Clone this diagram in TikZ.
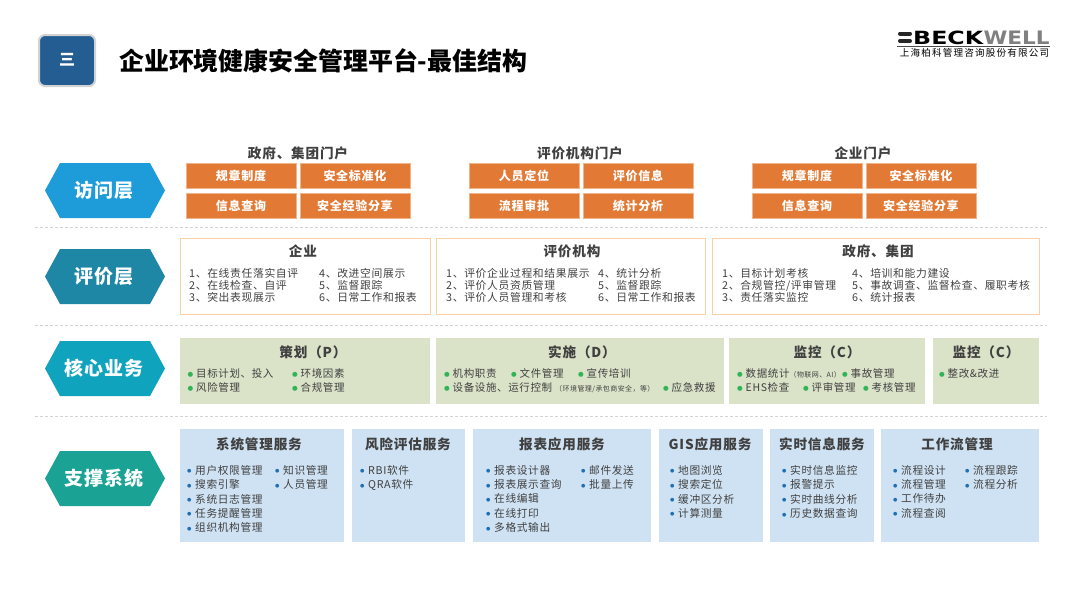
\documentclass[tikz,border=0pt]{standalone}
\usepackage{fontspec}
\usepackage{graphicx}
\setmainfont[LetterSpace=6]{Noto Sans CJK SC}
\newfontfamily\titlefont{Noto Sans CJK SC}
\newfontfamily\logofont{DejaVu Sans}
\usetikzlibrary{positioning}

\definecolor{hexblue}{HTML}{1E9CD9}
\definecolor{hexteal}{HTML}{1F87A6}
\definecolor{hexcyan}{HTML}{10A3BE}
\definecolor{hexgreen}{HTML}{1AA294}
\definecolor{menufill}{HTML}{245D92}
\definecolor{portalfill}{HTML}{E27A35}
\definecolor{portaledge}{HTML}{F0B48A}
\definecolor{evaledge}{HTML}{F8D2A6}
\definecolor{corefill}{HTML}{DAE3C8}
\definecolor{supfill}{HTML}{CFE2F3}
\definecolor{textgray}{HTML}{404040}
\definecolor{dotgreen}{HTML}{2FB457}
\definecolor{dotblue}{HTML}{1F6FB5}

\newcommand{\gdot}{\makebox[8.5pt][l]{\logofont\fontsize{6.5}{6.5}\selectfont\color{dotgreen}\raisebox{1pt}{●}}}
\newcommand{\bdot}{\makebox[8pt][l]{\logofont\fontsize{5}{5}\selectfont\color{dotblue}\raisebox{1.5pt}{●}}}
\newcommand{\smalltext}[1]{{\fontsize{7}{8}\selectfont #1}}

\tikzset{
  portal/.style={draw=portaledge,fill=portalfill,text=white,font=\fontsize{12}{14}\selectfont\bfseries,
    minimum width=109.5pt,minimum height=25pt,inner sep=0pt,anchor=north west},
  portalhead/.style={text=textgray,font=\fontsize{13.6}{16}\selectfont\bfseries,inner sep=0pt},
  hexlabel/.style={text=white,font=\fontsize{19}{21}\selectfont\bfseries,inner sep=0pt},
  boxhead/.style={text=textgray,font=\fontsize{13.6}{16}\selectfont\bfseries,inner sep=0pt},
  evallist/.style={text=textgray,font=\fontsize{10.8}{12}\selectfont,align=left,anchor=north west,inner sep=0pt},
  corelist/.style={text=textgray,font=\fontsize{10.5}{14.5}\selectfont,align=left,anchor=north west,inner sep=0pt},
  suplist/.style={text=textgray,font=\fontsize{10.7}{14.4}\selectfont,align=left,anchor=north west,inner sep=0pt},
  layerline/.style={gray!35,densely dashed,line width=0.6pt},
}

\begin{document}
\begin{tikzpicture}[x=1pt,y=-1pt]
\useasboundingbox (0,0) rectangle (1080,606);

% title
\draw[gray!35,line width=2pt,fill=menufill,rounded corners=6pt] (39,35) rectangle (95,86);
\node[inner sep=0pt] (menu) at (67,60) {\titlefont\fontsize{16}{18}\selectfont\bfseries\color{white}三};
\node[anchor=west,inner sep=0pt] (title) at (119,61) {\titlefont\fontsize{24.9}{28}\selectfont\bfseries 企业环境健康安全管理平台-最佳结构};

% logo
\draw[line width=4pt,black!85,line cap=round] (900,33.5)--(910,33.5);
\draw[line width=4pt,black!85,line cap=round] (900,41)--(910,41);
\node[anchor=west,inner sep=0pt] (beck) at (913,37.5) {\resizebox{70pt}{13.5pt}{\logofont\bfseries BECK}};
\node[inner sep=0pt,right=0pt of beck] (well) {\resizebox{66pt}{13.5pt}{\logofont\bfseries\color{gray}WELL}};
\draw[black!70,line width=0.7pt] (897,46)--(1050,46);
\node[inner sep=0pt] (company) at (974.5,53) {\titlefont\fontsize{9.6}{10}\selectfont\addfontfeature{LetterSpace=12}上海柏科管理咨询股份有限公司};

% layer separators
\draw[layerline] (35,227.5)--(1047,227.5);
\draw[layerline] (35,325.5)--(1047,325.5);
\draw[layerline] (35,416.5)--(1047,416.5);

% layer hexagons
\fill[hexblue] (45,190.5)--(60,163)--(150,163)--(165,190.5)--(150,218)--(60,218)--cycle;
\node[hexlabel] (access) at (104,190) {访问层};
\fill[hexteal] (45,276.5)--(60,249)--(150,249)--(165,276.5)--(150,304)--(60,304)--cycle;
\node[hexlabel] (evaluate) at (104,276) {评价层};
\fill[hexcyan] (45,368.5)--(60,341)--(150,341)--(165,368.5)--(150,396)--(60,396)--cycle;
\node[hexlabel] (core) at (104,368) {核心业务};
\fill[hexgreen] (45,478.5)--(60,451)--(150,451)--(165,478.5)--(150,506)--(60,506)--cycle;
\node[hexlabel] (support) at (104,478) {支撑系统};

% access layer
\node[portalhead] (govhead) at (298,153) {政府、集团门户};
\node[portal] (gova) at (186,163) {规章制度};
\node[portal] (govb) at (300,163) {安全标准化};
\node[portal] (govc) at (186,193) {信息查询};
\node[portal] (govd) at (300,193) {安全经验分享};
\node[portalhead] (orghead) at (580,153) {评价机构门户};
\node[portal] (orga) at (469,163) {人员定位};
\node[portal] (orgb) at (583,163) {评价信息};
\node[portal] (orgc) at (469,193) {流程审批};
\node[portal] (orgd) at (583,193) {统计分析};
\node[portalhead] (enthead) at (863,153) {企业门户};
\node[portal] (enta) at (752,163) {规章制度};
\node[portal] (entb) at (866,163) {安全标准化};
\node[portal] (entc) at (752,193) {信息查询};
\node[portal] (entd) at (866,193) {安全经验分享};

% evaluation layer
\draw[evaledge,line width=0.9pt] (180,238) rectangle (430,314);
\node[boxhead] (evalahead) at (303,251) {企业};
\node[evallist] (evalaleft) at (189,268) {1、在线责任落实自评\\2、在线检查、自评\\3、突出表现展示};
\node[evallist] (evalaright) at (319,268) {4、改进空间展示\\5、监督跟踪\\6、日常工作和报表};
\draw[evaledge,line width=0.9pt] (436,238) rectangle (705,314);
\node[boxhead] (evalbhead) at (572,251) {评价机构};
\node[evallist] (evalbleft) at (446,268) {1、评价企业过程和结果展示\\2、评价人员资质管理\\3、评价人员管理和考核};
\node[evallist] (evalbright) at (598,268) {4、统计分析\\5、监督跟踪\\6、日常工作和报表};
\draw[evaledge,line width=0.9pt] (712,238) rectangle (1039,314);
\node[boxhead] (evalchead) at (878,251) {政府、集团};
\node[evallist] (evalcleft) at (722,268) {1、目标计划考核\\2、合规管控/评审管理\\3、责任落实监控};
\node[evallist] (evalcright) at (852,268) {4、培训和能力建设\\5、事故调查、监督检查、履职考核\\6、统计报表};

% core business
\fill[corefill] (180,338) rectangle (430,404);
\node[boxhead] (planhead) at (313,352) {策划（P）};
\node[corelist] (planleft) at (187.5,368) {\gdot 目标计划、投入\\\gdot 风险管理};
\node[corelist] (planright) at (292,368) {\gdot 环境因素\\\gdot 合规管理};
\fill[corefill] (436,338) rectangle (724,404);
\node[boxhead] (dohead) at (582,352) {实施（D）};
\node[corelist] (doa) at (444,368) {\gdot 机构职责};
\node[corelist] (dob) at (511,368) {\gdot 文件管理};
\node[corelist] (doc) at (578,368) {\gdot 宣传培训};
\node[corelist] (dod) at (444,382.5) {\gdot 设备设施、运行控制\hspace{3pt}\smalltext{（环境管理/承包商安全，等）}};
\node[corelist] (doe) at (663,382.5) {\gdot 应急救援};
\fill[corefill] (729,338) rectangle (925,404);
\node[boxhead] (checkhead) at (827,352) {监控（C）};
\node[corelist] (checka) at (737,368) {\gdot 数据统计\smalltext{（物联网、AI）}};
\node[corelist] (checkb) at (842,368) {\gdot 事故管理};
\node[corelist] (checkc) at (737,382.5) {\gdot EHS检查};
\node[corelist] (checkd) at (803,382.5) {\gdot 评审管理};
\node[corelist] (checke) at (863,382.5) {\gdot 考核管理};
\fill[corefill] (933,338) rectangle (1039,404);
\node[boxhead] (acthead) at (986,352) {监控（C）};
\node[corelist] (acta) at (939,368) {\gdot 整改\&改进};

% support system
\fill[supfill] (180,429) rectangle (344,542);
\node[boxhead] (syshead) at (259,444) {系统管理服务};
\node[suplist] (sysleft) at (187,465) {\bdot 用户权限管理\\\bdot 搜索引擎\\\bdot 系统日志管理\\\bdot 任务提醒管理\\\bdot 组织机构管理};
\node[suplist] (sysright) at (275,465) {\bdot 知识管理\\\bdot 人员管理};
\fill[supfill] (352,429) rectangle (465,542);
\node[boxhead] (riskhead) at (408,444) {风险评估服务};
\node[suplist] (riskleft) at (360,465) {\bdot RBI软件\\\bdot QRA软件};
\fill[supfill] (473,429) rectangle (651,542);
\node[boxhead] (rephead) at (562,444) {报表应用服务};
\node[suplist] (repleft) at (486,465) {\bdot 报表设计器\\\bdot 报表展示查询\\\bdot 在线编辑\\\bdot 在线打印\\\bdot 多格式输出};
\node[suplist] (repright) at (581,465) {\bdot 邮件发送\\\bdot 批量上传};
\fill[supfill] (659,429) rectangle (763,542);
\node[boxhead] (gishead) at (710,444) {GIS应用服务};
\node[suplist] (gisleft) at (670,465) {\bdot 地图浏览\\\bdot 搜索定位\\\bdot 缓冲区分析\\\bdot 计算测量};
\fill[supfill] (770,429) rectangle (874,542);
\node[boxhead] (realhead) at (822,444) {实时信息服务};
\node[suplist] (realleft) at (782,465) {\bdot 实时信息监控\\\bdot 报警提示\\\bdot 实时曲线分析\\\bdot 历史数据查询};
\fill[supfill] (881,429) rectangle (1039,542);
\node[boxhead] (flowhead) at (957,444) {工作流管理};
\node[suplist] (flowleft) at (893,465) {\bdot 流程设计\\\bdot 流程管理\\\bdot 工作待办\\\bdot 流程查阅};
\node[suplist] (flowright) at (965,465) {\bdot 流程跟踪\\\bdot 流程分析};
\end{tikzpicture}
\end{document}
